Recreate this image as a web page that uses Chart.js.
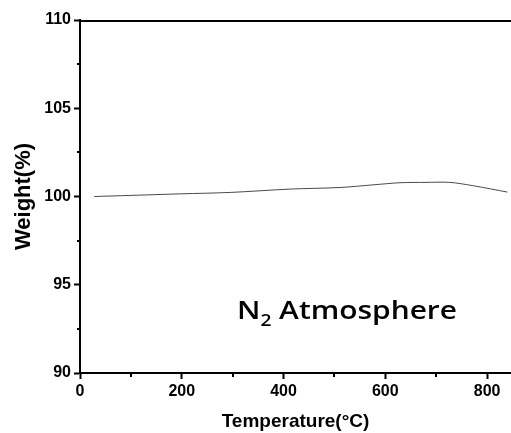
<!DOCTYPE html>
<html>
<head>
<meta charset="utf-8">
<script src="https://cdn.jsdelivr.net/npm/chart.js@4"></script>
<style>
html,body{margin:0;padding:0;background:#fff;}
#wrap{width:511px;height:433px;position:relative;}
</style>
</head>
<body>
<div id="wrap"><canvas id="c" width="511" height="433"></canvas></div>
<script>
const temperatures = [28, 98, 197, 295, 413, 511, 576, 629, 680, 727, 773, 840];
const weights = [100.00, 100.06, 100.15, 100.23, 100.42, 100.51, 100.66, 100.78, 100.80, 100.80, 100.61, 100.25];
const xMajorTicks = [0, 200, 400, 600, 800];
const xMinorTicks = [100, 300, 500, 700];
const yMajorTicks = [90, 95, 100, 105, 110];
const yMinorTicks = [92.5, 97.5, 102.5, 107.5];
const xTitle = 'Temperature(°C)';
const yTitle = 'Weight(%)';
const annotationMain = 'N';
const annotationSub = '2';
const annotationRest = ' Atmosphere';

const extras = {
  id: 'extras',
  afterDraw(chart) {
    const ctx = chart.ctx;
    const a = chart.chartArea;
    const xs = chart.scales.x, ys = chart.scales.y;
    ctx.save();
    ctx.strokeStyle = '#000';
    ctx.lineWidth = 2;
    // top frame line
    ctx.beginPath();
    ctx.moveTo(a.left - 1, a.top + 1);
    ctx.lineTo(a.right, a.top + 1);
    ctx.stroke();
    // minor ticks
    ctx.beginPath();
    xMinorTicks.forEach(v => {
      const px = Math.round(xs.getPixelForValue(v));
      ctx.moveTo(px, a.bottom);
      ctx.lineTo(px, a.bottom + 4);
    });
    yMinorTicks.forEach(v => {
      const py = Math.round(ys.getPixelForValue(v));
      ctx.moveTo(a.left, py);
      ctx.lineTo(a.left - 3, py);
    });
    ctx.stroke();
    // annotation (horizontally stretched to match reference width)
    ctx.fillStyle = '#000';
    ctx.textBaseline = 'alphabetic';
    ctx.textAlign = 'left';
    const big = '600 25px "Open Sans"';
    const small = '600 16px "Open Sans"';
    ctx.font = big;
    const w1 = ctx.measureText(annotationMain).width;
    const w3 = ctx.measureText(annotationRest).width;
    ctx.font = small;
    const w2 = ctx.measureText(annotationSub).width;
    const total = w1 + w2 + w3;
    const sx = 220 / total;
    ctx.translate(237, 319);
    ctx.scale(sx, 1);
    let x = 0;
    ctx.font = big;
    ctx.fillText(annotationMain, x, 0);
    x += w1;
    ctx.font = small;
    ctx.fillText(annotationSub, x, 7);
    x += w2;
    ctx.font = big;
    ctx.fillText(annotationRest, x, 0);
    ctx.restore();
  }
};

new Chart(document.getElementById('c'), {
  type: 'line',
  data: {
    datasets: [{
      data: temperatures.map((t, i) => ({x: t, y: weights[i]})),
      borderColor: '#4a4a4a',
      borderWidth: 1,
      pointRadius: 0,
      tension: 0.3,
      fill: false
    }]
  },
  options: {
    responsive: false,
    animation: false,
    devicePixelRatio: 1,
    layout: {padding: {top: 20, right: 0, left: 0, bottom: 0}},
    plugins: {legend: {display: false}, tooltip: {enabled: false}},
    scales: {
      x: {
        type: 'linear',
        min: 0,
        max: 847,
        afterFit(s) { s.height = 60; },
        afterBuildTicks(s) { s.ticks = xMajorTicks.map(v => ({value: v})); },
        grid: {drawOnChartArea: false, drawTicks: true, tickLength: 6, tickWidth: 2, tickColor: '#000'},
        border: {display: true, color: '#000', width: 2},
        ticks: {
          color: '#000',
          padding: 3,
          maxRotation: 0,
          font: {family: '"Liberation Sans", Arial, sans-serif', size: 16, weight: 'bold'}
        },
        title: {
          display: true,
          text: xTitle,
          color: '#000',
          padding: {top: 0, bottom: 0},
          font: {family: '"Liberation Sans", Arial, sans-serif', size: 19, weight: 'bold'}
        }
      },
      y: {
        type: 'linear',
        min: 90,
        max: 110,
        afterFit(s) { s.width = 80; },
        afterBuildTicks(s) { s.ticks = yMajorTicks.map(v => ({value: v})); },
        grid: {drawOnChartArea: false, drawTicks: true, tickLength: 6, tickWidth: 2, tickColor: '#000'},
        border: {display: true, color: '#000', width: 2},
        ticks: {
          color: '#000',
          padding: 3,
          font: {family: '"Liberation Sans", Arial, sans-serif', size: 16, weight: 'bold'}
        },
        title: {
          display: true,
          text: yTitle,
          color: '#000',
          padding: {top: 11, bottom: 0},
          font: {family: '"Liberation Sans", Arial, sans-serif', size: 22, weight: 'bold'}
        }
      }
    }
  },
  plugins: [extras]
});
</script>
</body>
</html>
